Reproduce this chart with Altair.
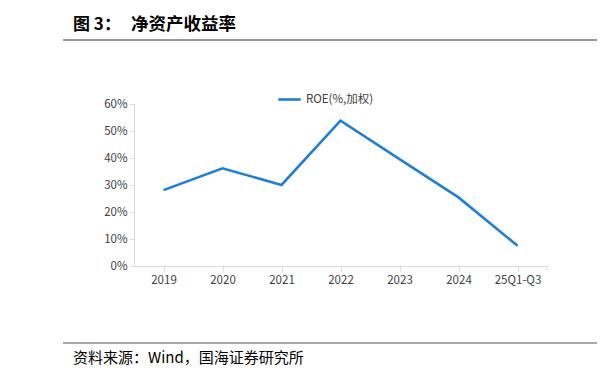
import altair as alt
import pandas as pd

categories = ["2019", "2020", "2021", "2022", "2023", "2024", "25Q1-Q3"]
roe = [28.1, 36.2, 30.0, 53.8, 39.6, 25.4, 7.5]
series_name = "ROE(%,加权)"
y_ticks = [0, 10, 20, 30, 40, 50, 60]

title_label = "图 3："
title_text = "净资产收益率"
source_text = "资料来源：Wind，国海证券研究所"

df = pd.DataFrame({"cat": categories, "roe": roe, "s": [series_name] * len(categories)})

W, H = 413, 162
FONT = "Noto Sans CJK SC"
AX = "#d9d9d9"

xscale = alt.Scale(paddingInner=0, paddingOuter=0)
yscale = alt.Scale(domain=[0, 60])

line = alt.Chart(df).mark_line(strokeWidth=2.6).encode(
    x=alt.X("cat:N", sort=categories, scale=xscale,
            axis=alt.Axis(title=None, ticks=False, domainColor=AX, labelFont=FONT, orient="bottom",
                          labelFontSize=11.5, labelColor="#404040", labelAngle=0, labelPadding=8)),
    y=alt.Y("roe:Q", scale=yscale,
            axis=alt.Axis(title=None, values=y_ticks, format=".0f", labelExpr="datum.value + '%'",
                          grid=False, domainColor=AX, tickColor=AX, tickSize=4,
                          labelFont=FONT, labelFontSize=11.5, labelColor="#404040", labelPadding=3)),
    color=alt.Color("s:N", scale=alt.Scale(range=["#1f7fd8"]),
                    legend=alt.Legend(title=None, orient="none", legendX=143, legendY=-17,
                                      symbolType="stroke", symbolSize=500, symbolStrokeWidth=2.6,
                                      labelFont=FONT, labelFontSize=11.5, labelColor="#404040",
                                      labelOffset=4)),
)

tick_layer = alt.Chart(df).mark_point(opacity=0).encode(
    x=alt.X("cat:N", sort=categories, scale=xscale,
            axis=alt.Axis(title=None, labels=False, domain=False, ticks=True, tickColor=AX,
                          tickSize=5, bandPosition=0, orient="bottom")),
    y=alt.value(H),
)
xtick_end = alt.Chart(df.head(1)).mark_rect(color=AX).encode(
    x=alt.value(W - 0.5), x2=alt.value(W + 0.5), y=alt.value(H), y2=alt.value(H + 5))

title1 = alt.Chart(pd.DataFrame({"t": [title_label]})).mark_text(
    align="left", baseline="middle", font=FONT, fontSize=17, fontWeight="bold", color="#000000"
).encode(text="t:N", x=alt.value(-61), y=alt.value(-79))
title2 = alt.Chart(pd.DataFrame({"t": [title_text]})).mark_text(
    align="left", baseline="middle", font=FONT, fontSize=17.5, fontWeight="bold", color="#000000"
).encode(text="t:N", x=alt.value(-3), y=alt.value(-79))

top_rule = alt.Chart(df.head(1)).mark_rule(color="#333333", strokeWidth=1).encode(
    x=alt.value(-71), x2=alt.value(476), y=alt.value(-64))
bottom_rule = alt.Chart(df.head(1)).mark_rule(color="#555555", strokeWidth=1).encode(
    x=alt.value(-71), x2=alt.value(476), y=alt.value(239))

source = alt.Chart(pd.DataFrame({"t": [source_text]})).mark_text(
    align="left", baseline="middle", font=FONT, fontSize=15, color="#000000"
).encode(text="t:N", x=alt.value(-61), y=alt.value(254))

chart = alt.layer(line, tick_layer, xtick_end, title1, title2, top_rule, bottom_rule, source).resolve_axis(
    x="independent"
).properties(
    width=W, height=H,
    autosize=alt.AutoSizeParams(type="none"),
    padding={"left": 126, "top": 96, "right": 50, "bottom": 100},
).configure(background="white").configure_view(stroke=None)

chart.save("out.html", embed_options={"renderer": "svg", "actions": False})
